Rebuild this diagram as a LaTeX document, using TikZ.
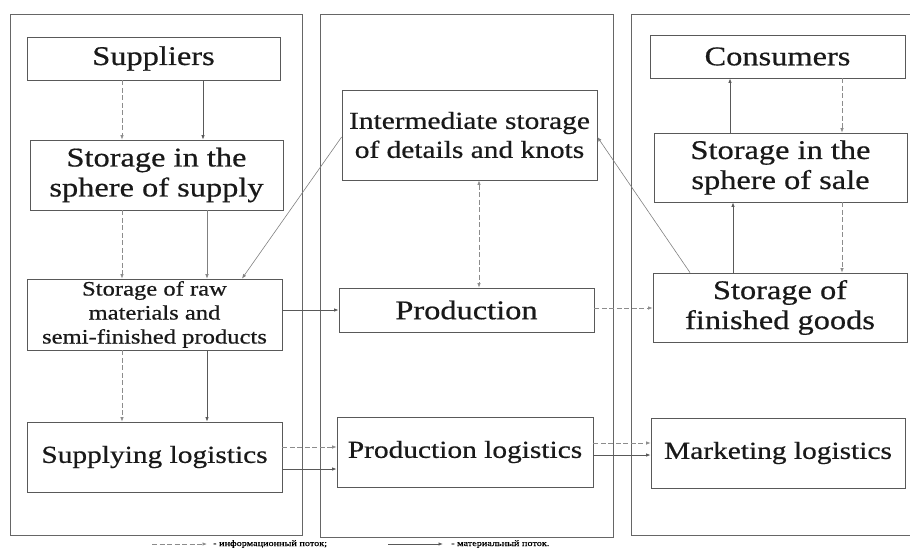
\documentclass[tikz,border=0pt]{standalone}
\usepackage{fontspec}
\setmainfont{Liberation Serif}[FakeStretch=1.2,FakeBold=0.6]
\usetikzlibrary{arrows.meta}
\tikzset{
  box/.style={draw=black!65, line width=0.8pt, align=center, inner sep=0pt, text=black!90},
  big/.style={font=\fontsize{27}{30}\selectfont},
  mid/.style={font=\fontsize{24.5}{29}\selectfont},
  small/.style={font=\fontsize{20.5}{24}\selectfont},
  panel/.style={draw=black!60, line width=0.9pt},
  info/.style={draw=black!45, line width=0.7pt, dash pattern=on 5pt off 2.5pt, -{Latex[length=4.5pt,width=3.5pt]}},
  mat/.style={draw=black!65, line width=0.8pt, -{Latex[length=4.5pt,width=3.5pt]}},
  thinline/.style={draw=black!50, line width=0.6pt, -{Latex[length=4.5pt,width=3.5pt]}},
}
\begin{document}
\begin{tikzpicture}[x=1pt,y=-1pt]
\useasboundingbox (0,0) rectangle (910,549);
% panels
\draw[panel] (10,14) rectangle (302,535);
\draw[panel] (320,14) rectangle (613,537);
\draw[panel] (910,14) -- (631,14) -- (631,535) -- (910,535);
% boxes
\node[box,big,minimum width=253pt,minimum height=43pt] (sup) at (153.5,58.5) {Suppliers};
\node[box,big,minimum width=253pt,minimum height=70pt] (sts) at (156.5,175) {Storage in the\\sphere of supply};
\node[box,small,minimum width=255pt,minimum height=71pt] (raw) at (154.5,314.5) {Storage of raw\\materials and\\semi-finished products};
\node[box,mid,minimum width=255pt,minimum height=70pt] (slog) at (154.5,457) {Supplying logistics};
\node[box,mid,minimum width=255pt,minimum height=90pt] (inter) at (469.5,135) {Intermediate storage\\of details and knots};
\node[box,big,minimum width=255pt,minimum height=44pt] (prod) at (466.5,310) {Production};
\node[box,mid,minimum width=256pt,minimum height=70pt] (plog) at (465,452) {Production logistics};
\node[box,big,minimum width=255pt,minimum height=43pt] (cons) at (777.5,56.5) {Consumers};
\node[box,big,minimum width=253pt,minimum height=69pt] (sale) at (780.5,167.5) {Storage in the\\sphere of sale};
\node[box,big,minimum width=254pt,minimum height=69pt] (fin) at (780,307.5) {Storage of\\finished goods};
\node[box,mid,minimum width=254pt,minimum height=70pt] (mlog) at (778,453) {Marketing logistics};
% left column
\draw[info] (sup.south -| 122,0) -- (sts.north -| 122,0);
\draw[mat] (sup.south -| 203,0) -- (sts.north -| 203,0);
\draw[info] (sts.south -| 122,0) -- (raw.north -| 122,0);
\draw[thinline] (sts.south -| 207,0) -- (raw.north -| 207,0);
\draw[info] (raw.south -| 122,0) -- (slog.north -| 122,0);
\draw[mat] (raw.south -| 207,0) -- (slog.north -| 207,0);
% diagonals
\draw[thinline] (inter.west |- 0,137) -- (raw.north -| 242,0);
\draw[thinline] (fin.north -| 690,0) -- (inter.east |- 0,137);
% middle
\draw[info,{Latex[length=4.5pt,width=3.5pt]}-{Latex[length=4.5pt,width=3.5pt]}] (inter.south -| 479,0) -- (prod.north -| 479,0);
\draw[mat] (raw.east |- 0,310) -- (prod.west |- 0,310);
\draw[info] (prod.east |- 0,308) -- (fin.west |- 0,308);
% right column
\draw[mat] (fin.north -| 733,0) -- (sale.south -| 733,0);
\draw[mat] (sale.north -| 730,0) -- (cons.south -| 730,0);
\draw[info] (cons.south -| 842,0) -- (sale.north -| 842,0);
\draw[info] (sale.south -| 842,0) -- (fin.north -| 842,0);
% logistics
\draw[info] (slog.east |- 0,447) -- (plog.west |- 0,447);
\draw[mat] (slog.east |- 0,469) -- (plog.west |- 0,469);
\draw[info] (plog.east |- 0,443) -- (mlog.west |- 0,443);
\draw[mat] (plog.east |- 0,455) -- (mlog.west |- 0,455);
% legend
\coordinate (l1a) at (152,544);
\coordinate (l1b) at (207,544);
\coordinate (l2a) at (388,544);
\coordinate (l2b) at (443,544);
\draw[info] (l1a) -- (l1b);
\draw[mat] (l2a) -- (l2b);
\node[anchor=west,inner sep=0pt,font=\fontsize{8.5}{9}\selectfont] (t1) at (213,544) {- информационный поток;};
\node[anchor=west,inner sep=0pt,font=\fontsize{8.5}{9}\selectfont] (t2) at (451,544) {- материальный поток.};
\end{tikzpicture}
\end{document}
